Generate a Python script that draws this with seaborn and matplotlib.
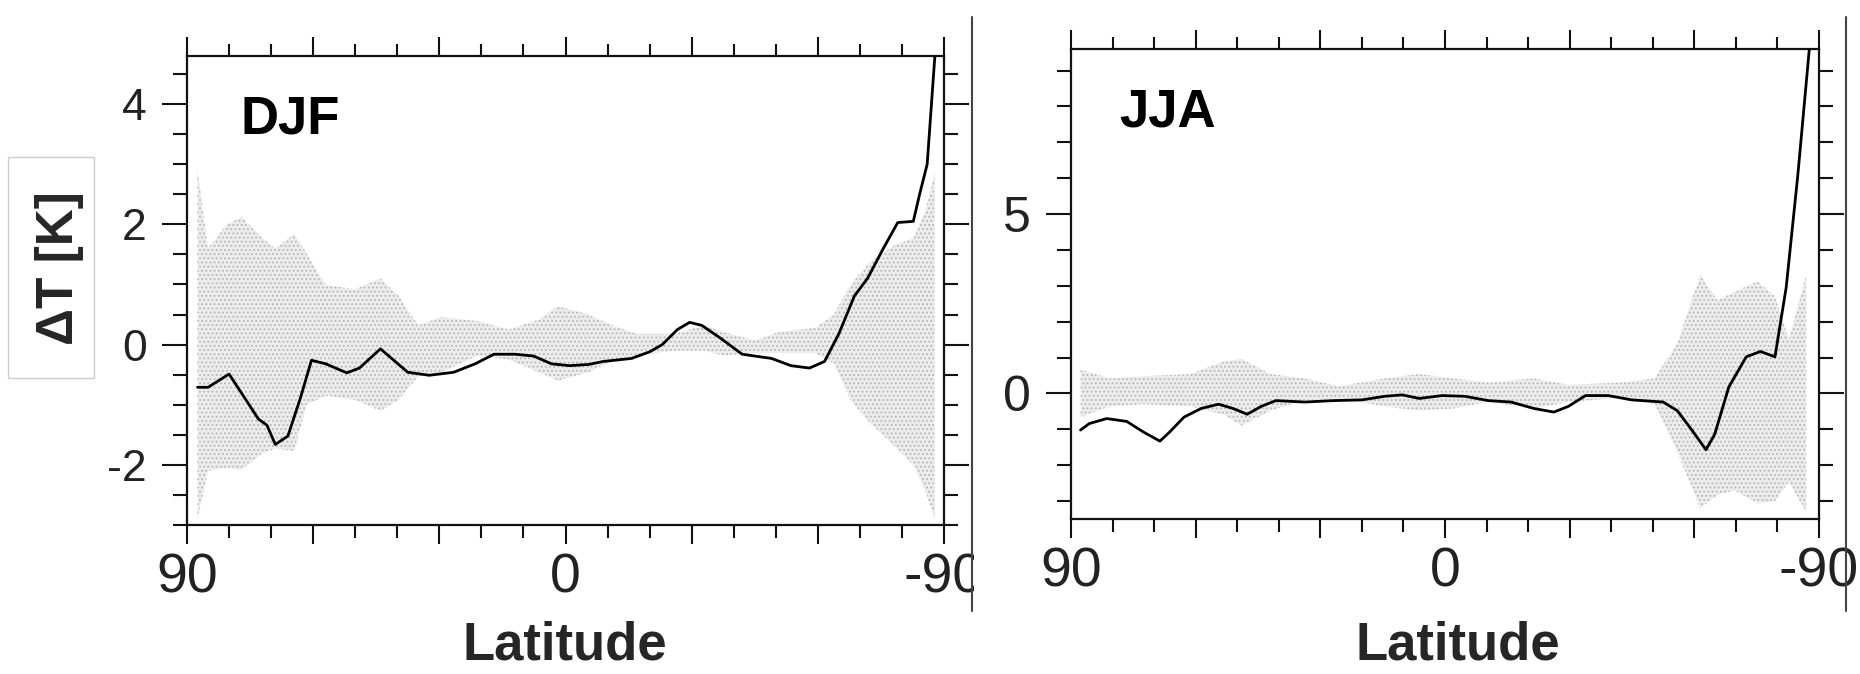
import numpy as np
import pandas as pd
import matplotlib
matplotlib.use("Agg")
import matplotlib.pyplot as plt
import seaborn as sns
from matplotlib.ticker import FixedLocator, MultipleLocator, FixedFormatter
from matplotlib.patches import Rectangle
from matplotlib.lines import Line2D

# ---------------- data ----------------
djf_lat = [87.5, 85, 80, 77, 73, 71, 69, 66, 63, 60.4, 57, 52, 49, 44, 41, 37.5, 32.4,
           26.6, 21.5, 17, 12, 7.6, 3.3, -1, -5.5, -9, -15.7, -20, -23, -26.6, -29.5,
           -32.4, -36.8, -42, -49, -53.6, -58, -61.6, -65, -68.7, -71.8, -75.5, -79,
           -82.7, -84.2, -86, -87.8, -88.5]
djf_dT = [-0.71, -0.71, -0.49, -0.81, -1.24, -1.34, -1.66, -1.52, -0.88, -0.26, -0.32,
          -0.47, -0.39, -0.07, -0.25, -0.46, -0.51, -0.46, -0.32, -0.16, -0.16, -0.19,
          -0.32, -0.35, -0.33, -0.28, -0.23, -0.12, 0.0, 0.25, 0.37, 0.32, 0.11, -0.16,
          -0.23, -0.35, -0.39, -0.28, 0.18, 0.81, 1.1, 1.59, 2.03, 2.05, 2.5, 3.0, 4.77, 5.4]

djf_band_lat = [87.5, 85, 80.5, 77, 72, 69, 64.5, 61.6, 57, 50, 44, 39.7, 35, 29.5, 20.8,
                13.5, 6.2, 1.8, -5.5, -11, -17, -26, -33, -37.5, -45, -50.7, -59.4,
                -63.8, -68, -72.5, -78.4, -82.7, -85.6, -87.8]
djf_band_hi = [2.9, 1.6, 2.0, 2.12, 1.77, 1.6, 1.84, 1.52, 0.99, 0.92, 1.1, 0.81, 0.32,
               0.46, 0.39, 0.25, 0.42, 0.64, 0.5, 0.32, 0.18, 0.18, 0.32, 0.21, 0.07,
               0.21, 0.28, 0.5, 1.02, 1.38, 1.66, 1.77, 2.23, 2.86]
djf_band_lo = [-2.9, -2.1, -2.05, -2.08, -1.8, -1.73, -1.77, -1.0, -0.85, -0.92, -1.1,
               -0.92, -0.53, -0.46, -0.18, -0.25, -0.46, -0.6, -0.46, -0.28, -0.18, -0.1,
               -0.1, -0.18, -0.14, -0.14, -0.14, -0.32, -0.95, -1.31, -1.7, -2.0, -2.44, -2.9]

jja_lat = [87.7, 85.6, 81.4, 76.6, 72.5, 68.6, 66.3, 62.8, 58.7, 54.5, 51, 47.6, 44.2,
           40.7, 33.8, 26.9, 20, 14.5, 10.3, 6.2, 0.7, -4.8, -10.4, -15.9, -21.4, -26.2,
           -29.7, -33.8, -39.3, -44.9, -52.5, -55.9, -59.4, -62.8, -64.9, -68.3, -72.5,
           -75.9, -79.4, -82.1, -84.9, -87.7]
jja_dT = [-1.02, -0.84, -0.7, -0.78, -1.08, -1.33, -1.08, -0.66, -0.42, -0.3, -0.42,
          -0.58, -0.36, -0.2, -0.24, -0.2, -0.18, -0.08, -0.04, -0.14, -0.06, -0.08, -0.2,
          -0.24, -0.42, -0.52, -0.36, -0.06, -0.06, -0.18, -0.24, -0.48, -1.02, -1.57,
          -1.14, 0.18, 1.02, 1.17, 1.02, 2.95, 6.08, 9.64]

jja_band_lat = [87.7, 80.7, 72.5, 61.4, 53, 49, 42, 33.8, 25.5, 14.5, 6.2, -2, -10.4,
                -21.4, -29.7, -42, -50.4, -55.9, -61.4, -65.6, -69.7, -75.2, -79.4,
                -82.8, -86.9]
jja_band_hi = [0.66, 0.42, 0.48, 0.54, 0.9, 0.96, 0.54, 0.42, 0.2, 0.42, 0.54, 0.42, 0.3,
               0.42, 0.24, 0.3, 0.42, 1.39, 3.3, 2.6, 2.83, 3.13, 2.7, 1.5, 3.3]
jja_band_lo = [-0.66, -0.36, -0.3, -0.36, -0.6, -0.9, -0.48, -0.18, -0.15, -0.36, -0.48,
               -0.42, -0.24, -0.42, -0.24, -0.12, -0.3, -1.63, -3.2, -2.83, -2.7, -3.07,
               -3.0, -2.47, -3.3]

season_labels = ["DJF", "JJA"]
x_major = [90, 60, 30, 0, -30, -60, -90]
x_labels = ["90", "", "", "0", "", "", "-90"]
djf_yticks = [-2, 0, 2, 4]
jja_yticks = [0, 5]

# ---------------- style ----------------
sns.set_style("ticks")
plt.rcParams["font.family"] = ["Liberation Sans", "DejaVu Sans"]
plt.rcParams["axes.unicode_minus"] = False
plt.rcParams["hatch.linewidth"] = 0.8
plt.rcParams["hatch.color"] = "#b8b8b8"

W, H = 1860, 674
fig = plt.figure(figsize=(W / 100, H / 100), dpi=100)
fig.patch.set_facecolor("white")

ax1 = fig.add_axes([187 / W, 1 - 525 / H, 757 / W, 469 / H])
ax2 = fig.add_axes([1071 / W, 1 - 519 / H, 748 / W, 470 / H])

tickfont = ["Liberation Sans", "DejaVu Sans"]


def setup(ax, lat, dT, blat, bhi, blo, ylim, yticks, yminor, ylab_size, label, lab_x):
    ax.fill_between(blat, blo, bhi, facecolor="#ececec", edgecolor="#b5b5b5",
                    linewidth=0, hatch="....", zorder=1)
    df = pd.DataFrame({"lat": lat, "dT": dT})
    sns.lineplot(data=df, x="lat", y="dT", ax=ax, color="black", linewidth=2.0,
                 sort=False, estimator=None, zorder=3)
    ax.set_xlim(90, -90)
    ax.set_ylim(*ylim)
    ax.xaxis.set_major_locator(FixedLocator(x_major))
    ax.xaxis.set_major_formatter(FixedFormatter(x_labels))
    ax.xaxis.set_minor_locator(MultipleLocator(10))
    ax.yaxis.set_major_locator(FixedLocator(yticks))
    ax.yaxis.set_minor_locator(MultipleLocator(yminor))
    ax.set_xlabel("")
    ax.set_ylabel("")
    for s in ax.spines.values():
        s.set_visible(True)
        s.set_linewidth(1.6)
        s.set_color("#111111")
    ax.tick_params(which="both", direction="out", top=True, right=True,
                   labeltop=False, labelright=False, width=1.5, color="#111111")
    ax.tick_params(axis="x", which="major", length=14, pad=6)
    ax.tick_params(axis="x", which="minor", length=9)
    ax.tick_params(axis="y", which="major", length=18, pad=11)
    ax.tick_params(axis="y", which="minor", length=10)
    for t in ax.get_xticklabels():
        t.set_family(tickfont)
        t.set_fontsize(40)
        t.set_color("#222222")
    for t in ax.get_yticklabels():
        t.set_family(tickfont)
        t.set_fontsize(ylab_size)
        t.set_color("#222222")
    ax.text(lab_x, 0.835, label, transform=ax.transAxes, fontsize=38,
            fontweight="bold", va="baseline", ha="left", color="black")


setup(ax1, djf_lat, djf_dT, djf_band_lat, djf_band_hi, djf_band_lo, (-3.0, 4.8),
      djf_yticks, 0.5, 32, season_labels[0], 0.071)
setup(ax2, jja_lat, jja_dT, jja_band_lat, jja_band_hi, jja_band_lo, (-3.5, 9.6),
      jja_yticks, 1, 36, season_labels[1], 0.065)

# x-axis titles
fig.text(565 / W, 1 - 660 / H, "Latitude", ha="center", va="baseline",
         fontsize=38, fontweight="bold")
fig.text(1458 / W, 1 - 660 / H, "Latitude", ha="center", va="baseline",
         fontsize=38, fontweight="bold")

# y-axis title in a light box
fig.add_artist(Rectangle((8 / W, 1 - 378 / H), 86 / W, 221 / H,
                         transform=fig.transFigure, fill=False,
                         edgecolor="#cccccc", linewidth=1.0))
fig.text(59 / W, 1 - 268 / H, "ΔT [K]", rotation=90, ha="center", va="center",
         fontsize=37, fontweight="bold")

# mask the part of the first "-90" that lies past the scan border
fig.add_artist(Rectangle((974 / W, 1 - 610 / H), 40 / W, 75 / H,
                         transform=fig.transFigure, facecolor="white",
                         edgecolor="none", zorder=10))

# vertical border lines of the scanned panels
for xp in (972, 1846):
    fig.add_artist(Line2D([xp / W, xp / W], [1 - 17 / H, 1 - 611 / H],
                          transform=fig.transFigure, color="#444444",
                          linewidth=1.5, zorder=11))

fig.savefig("out.png", dpi=100, facecolor="white")
